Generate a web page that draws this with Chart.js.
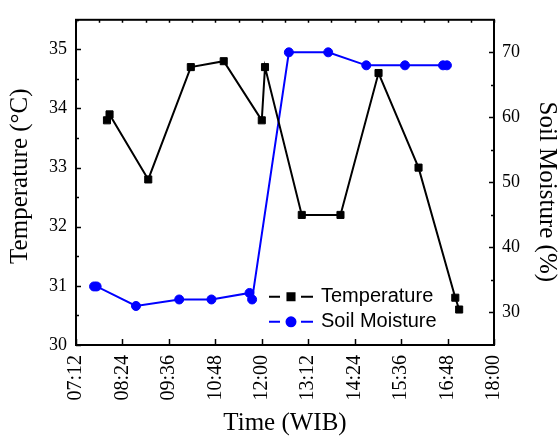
<!DOCTYPE html>
<html>
<head>
<meta charset="utf-8">
<script src="https://cdn.jsdelivr.net/npm/chart.js@4/dist/chart.umd.min.js"></script>
<style>
  body { margin: 0; background: #fff; }
  canvas { display: block; }
</style>
</head>
<body>
<canvas id="grafico" width="559" height="436"></canvas>
<script>
// dados (hora local WIB)
const tempTimes = ['08:00', '08:04', '09:04', '10:10', '11:01', '12:00', '12:05', '13:02', '14:02', '15:01', '16:03', '17:00', '17:06'];
const tempValues = [33.8, 33.9, 32.8, 34.7, 34.8, 33.8, 34.7, 32.2, 32.2, 34.6, 33.0, 30.8, 30.6];

const moistTimes = ['07:40', '07:44', '08:45', '09:52', '10:42', '11:41', '11:45', '12:42', '13:43', '14:42', '15:42', '16:41', '16:47'];
const moistValues = [34, 34, 31, 32, 32, 33, 32, 70, 70, 68, 68, 68, 68];

const seriesLabels = ['Temperature', 'Soil Moisture'];
const timeMin = '07:12';
const timeMax = '18:00';

const serif = 'Liberation Serif';
const sans = 'Liberation Sans';

function toMin(hhmm) {
  const p = hhmm.split(':');
  return parseInt(p[0]) * 60 + parseInt(p[1]);
}

function fmtMin(v) {
  const h = Math.floor(v / 60);
  const m = Math.round(v % 60);
  return String(h).padStart(2, '0') + ':' + String(m).padStart(2, '0');
}

// moldura com ticks para dentro
const moldura = {
  id: 'moldura',
  afterDatasetsDraw(chart) {
    const ctx = chart.ctx;
    const a = chart.chartArea;
    const x = chart.scales.x, y = chart.scales.y, y2 = chart.scales.y2;
    ctx.save();
    ctx.strokeStyle = '#000';
    ctx.lineWidth = 2;
    ctx.strokeRect(a.left, a.top, a.right - a.left, a.bottom - a.top);
    ctx.lineWidth = 1.5;
    ctx.beginPath();
    x.ticks.forEach(t => {
      const px = Math.round(x.getPixelForValue(t.value)) + 0.5;
      if ((t.value - x.min) % 72 === 0) {
        ctx.moveTo(px, a.bottom); ctx.lineTo(px, a.bottom - 6);
      }
      ctx.moveTo(px, a.top); ctx.lineTo(px, a.top + 3);
    });
    y.ticks.forEach(t => {
      const py = Math.round(y.getPixelForValue(t.value)) + 0.5;
      const len = Number.isInteger(t.value) ? 5 : 3;
      ctx.moveTo(a.left, py); ctx.lineTo(a.left + len, py);
    });
    y2.ticks.forEach(t => {
      if (t.value === y2.min || t.value === y2.max) return;
      const py = Math.round(y2.getPixelForValue(t.value)) + 0.5;
      const len = t.value % 10 === 0 ? 5 : 3;
      ctx.moveTo(a.right, py); ctx.lineTo(a.right - len, py);
    });
    ctx.stroke();
    ctx.restore();
  }
};

// legenda no estilo -■-
const legenda = {
  id: 'legenda',
  afterDraw(chart) {
    const ctx = chart.ctx;
    const a = chart.chartArea;
    const x0 = a.left + 193;
    const rows = [a.top + 277, a.top + 302];
    ctx.save();
    chart.data.datasets.forEach((ds, i) => {
      const yy = rows[i];
      ctx.strokeStyle = ds.borderColor;
      ctx.lineWidth = 2;
      ctx.beginPath();
      ctx.moveTo(x0, yy); ctx.lineTo(x0 + 11, yy);
      ctx.moveTo(x0 + 32, yy); ctx.lineTo(x0 + 44, yy);
      ctx.stroke();
      Chart.helpers.drawPoint(ctx, {
        pointStyle: ds.pointStyle,
        radius: ds.pointRadius,
        borderWidth: ds.pointBorderWidth
      }, x0 + 22, yy);
      ctx.fillStyle = ds.backgroundColor;
      ctx.fill();
      ctx.fillStyle = '#000';
      ctx.font = '20px "' + sans + '"';
      ctx.textBaseline = 'middle';
      ctx.textAlign = 'left';
      ctx.fillText(ds.label, x0 + 52, yy);
    });
    ctx.restore();
  }
};

function criarGrafico() {
  const ctx = document.getElementById('grafico');

  new Chart(ctx, {
    type: 'line',
    data: {
      datasets: [{
        label: seriesLabels[0],
        data: tempTimes.map((t, i) => ({ x: toMin(t), y: tempValues[i] })),
        yAxisID: 'y',
        borderColor: '#000000',
        backgroundColor: '#000000',
        borderWidth: 2,
        pointStyle: 'rect',
        pointRadius: 5,
        pointBorderWidth: 1,
        tension: 0
      }, {
        label: seriesLabels[1],
        data: moistTimes.map((t, i) => ({ x: toMin(t), y: moistValues[i] })),
        yAxisID: 'y2',
        borderColor: '#0000ff',
        backgroundColor: '#0000ff',
        borderWidth: 2,
        pointStyle: 'circle',
        pointRadius: 4.5,
        pointBorderWidth: 1,
        tension: 0
      }]
    },
    options: {
      responsive: false,
      animation: false,
      devicePixelRatio: 1,
      layout: { padding: { top: 15, left: 0, right: 0, bottom: 0 } },
      plugins: {
        legend: { display: false },
        tooltip: { enabled: false }
      },
      scales: {
        x: {
          type: 'linear',
          min: toMin(timeMin),
          max: toMin(timeMax),
          grid: { display: false, drawTicks: false },
          border: { display: false },
          ticks: {
            stepSize: 36,
            autoSkip: false,
            minRotation: 90,
            maxRotation: 90,
            padding: 10,
            color: '#000',
            font: { family: serif, size: 20 },
            callback: function (v) {
              return (v - this.min) % 72 === 0 ? fmtMin(v) : '';
            }
          },
          title: {
            display: true,
            text: 'Time (WIB)',
            color: '#000',
            font: { family: serif, size: 25, lineHeight: 1 },
            padding: { top: 0, bottom: 0 }
          },
          afterFit(s) { s.height = 91; }
        },
        y: {
          position: 'left',
          min: 30,
          max: 35.5,
          grid: { display: false, drawTicks: false },
          border: { display: false },
          ticks: {
            stepSize: 0.5,
            padding: 9,
            color: '#000',
            font: { family: serif, size: 18 },
            callback: v => Number.isInteger(v) ? v : ''
          },
          title: {
            display: true,
            text: '  Temperature (\u00B0C)',
            color: '#000',
            font: { family: serif, size: 25, lineHeight: 1 },
            padding: { top: 8, bottom: 0 }
          },
          afterFit(s) { s.width = 76; }
        },
        y2: {
          position: 'right',
          min: 25,
          max: 75,
          grid: { display: false, drawTicks: false },
          border: { display: false },
          ticks: {
            stepSize: 5,
            padding: 8,
            color: '#000',
            font: { family: serif, size: 18 },
            callback: v => v % 10 === 0 ? v : ''
          },
          title: {
            display: true,
            text: '   Soil Moisture (%)',
            color: '#000',
            font: { family: serif, size: 25, lineHeight: 1 },
            padding: { top: 0, bottom: 0 }
          },
          afterFit(s) { s.width = 65; }
        }
      }
    },
    plugins: [moldura, legenda]
  });
}

window.onload = criarGrafico;
</script>
</body>
</html>
